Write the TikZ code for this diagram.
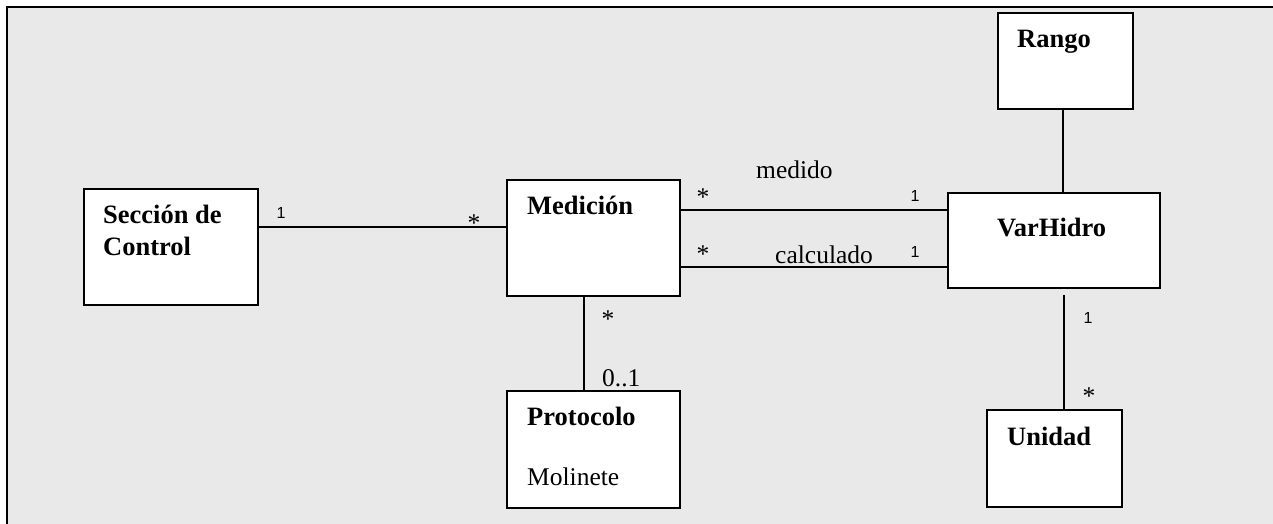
\documentclass[tikz,border=0pt]{standalone}
\usepackage{fontspec}
\setmainfont{Liberation Serif}
\newfontfamily\digitfont{Liberation Sans}
\definecolor{bggray}{HTML}{E9E9E9}
\tikzset{
  cls/.style={draw=black, fill=white, line width=1.6pt, rectangle, inner sep=0pt, anchor=north west},
  cname/.style={inner sep=0pt, anchor=base west, font=\fontsize{26.5}{30}\selectfont\bfseries},
  ctext/.style={inner sep=0pt, anchor=base west, font=\fontsize{25.5}{30}\selectfont},
  star/.style={inner sep=0pt, anchor=base, font=\fontsize{25.5}{30}\selectfont},
  one/.style={inner sep=0pt, anchor=base, font=\fontsize{16}{18}\selectfont\digitfont},
  assoc/.style={line width=1.6pt, draw=black}
}
\begin{document}
\begin{tikzpicture}[x=1pt,y=-1pt]
\useasboundingbox (0,0) rectangle (1273,523);
\fill[white] (0,0) rectangle (1273,523);
\path[fill=bggray, draw=black, line width=2.5pt] (7,7) rectangle (1290,540);

% classes
\node[cls, minimum width=174pt, minimum height=116pt] (sec) at (83,188) {};
\node[cls, minimum width=173pt, minimum height=116pt] (med) at (506,179) {};
\node[cls, minimum width=173pt, minimum height=117pt] (pro) at (506,390) {};
\node[cls, minimum width=212pt, minimum height=95pt] (var) at (947,192) {};
\node[cls, minimum width=135pt, minimum height=96pt] (ran) at (997,12) {};
\node[cls, minimum width=135pt, minimum height=97pt] (uni) at (986,409) {};

% class texts
\node[cname] (tsec1) at (103,223) {Sección de};
\node[cname] (tsec2) at (103,255) {Control};
\node[cname] (tmed) at (527,214) {Medición};
\node[cname] (tpro) at (527,425) {Protocolo};
\node[ctext] (tmol) at (527,485) {Molinete};
\node[cname] (tvar) at (997,236) {VarHidro};
\node[cname] (tran) at (1017,47) {Rango};
\node[cname] (tuni) at (1007,445) {Unidad};

% associations
\draw[assoc] ([yshift=-39pt]sec.north east) coordinate (a1) -- (a1 -| med.west);
\draw[assoc] ([yshift=-31pt]med.north east) coordinate (a2) -- (a2 -| var.west);
\draw[assoc] ([yshift=-88pt]med.north east) coordinate (a3) -- (a3 -| var.west);
\draw[assoc] ([xshift=-9.5pt]med.south) coordinate (a4) -- (a4 |- pro.north);
\draw[assoc] ([xshift=-2.5pt]ran.south) coordinate (a5) -- (a5 |- var.north);
\draw[assoc] ([xshift=9.5pt]uni.north) coordinate (a6) -- ([yshift=-6pt]a6 |- var.south);

% multiplicities and names
\node[one] (m1) at (281,218) {1};
\node[star] (m2) at (474,231.5) {*};
\node[ctext] (lmed) at (756,178) {medido};
\node[star] (m3) at (703,205.5) {*};
\node[one] (m4) at (915,201) {1};
\node[ctext] (lcal) at (775,263) {calculado};
\node[star] (m5) at (703,262.5) {*};
\node[one] (m6) at (915,257) {1};
\node[star] (m7) at (608,327.5) {*};
\node[ctext] (m8) at (602,386) {0..1};
\node[one] (m9) at (1088,323) {1};
\node[star] (m10) at (1089,404.5) {*};
\end{tikzpicture}
\end{document}
